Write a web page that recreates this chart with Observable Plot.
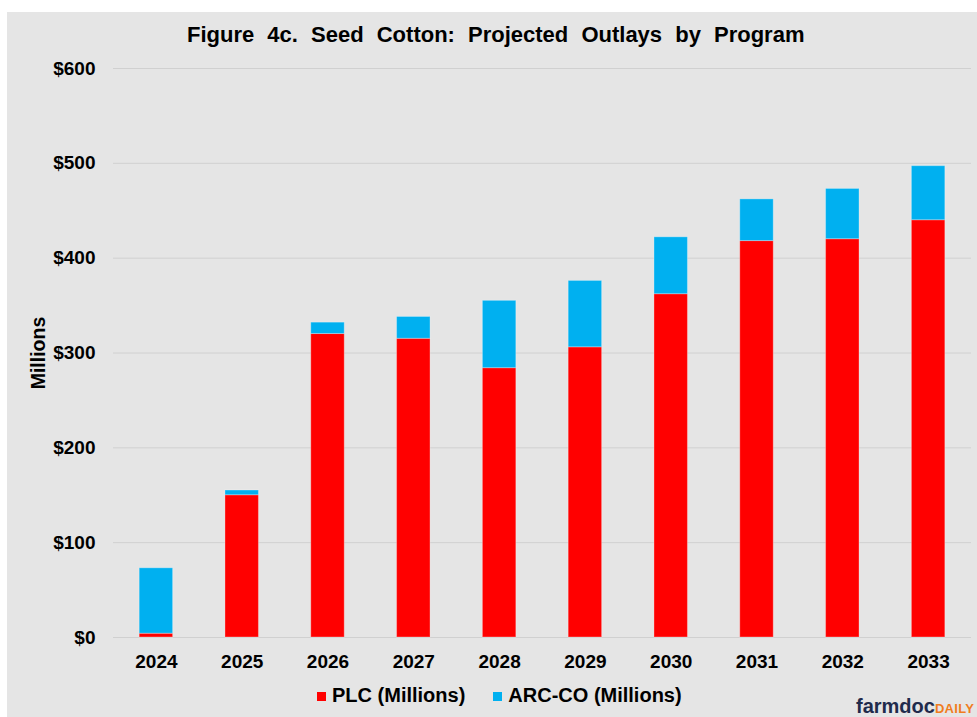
<!DOCTYPE html>
<html>
<head>
<meta charset="utf-8">
<script src="https://cdn.jsdelivr.net/npm/d3@7"></script>
<script src="https://cdn.jsdelivr.net/npm/@observablehq/plot@0.6"></script>
<style>
  html, body { margin: 0; padding: 0; background: #ffffff; width: 977px; height: 717px; overflow: hidden; }
  body { position: relative; font-family: "Liberation Sans", Arial, sans-serif; color: #000; }
  #panel { position: absolute; left: 7px; top: 12px; width: 970px; height: 705px; background: #e5e5e5; }
  #title { position: absolute; left: 187px; top: 22px; font-size: 22px; font-weight: bold; white-space: pre; word-spacing: 7px; line-height: 26px; }
  #chart { position: absolute; left: 0; top: 0; }
  #ylabel { position: absolute; left: 37.5px; top: 353px; font-size: 19.5px; font-weight: bold; transform: translate(-50%, -50%) rotate(-90deg); white-space: nowrap; line-height: 20px; }
  #legend { position: absolute; left: 317px; top: 685px; display: flex; gap: 28px; font-size: 20px; font-weight: bold; line-height: 20px; white-space: nowrap; }
  #legend .item { display: flex; align-items: center; }
  #legend .sw { width: 9px; height: 9px; margin-right: 6px; margin-top: 3px; }
  #logo { position: absolute; left: 856px; top: 696px; white-space: nowrap; line-height: 20px; font-weight: bold; }
  #logo .a { font-size: 20px; color: #1f2b4c; }
  #logo .b { font-size: 13px; color: #f07d1e; letter-spacing: 0.3px; }
</style>
</head>
<body>
<div id="panel"></div>
<div id="chart"></div>
<div id="title"></div>
<div id="ylabel"></div>
<div id="legend"></div>
<div id="logo"><span class="a">farmdoc</span><span class="b">DAILY</span></div>
<script>
const titleText = "Figure 4c. Seed Cotton: Projected Outlays by Program";
const yLabelText = "Millions";
const years = ["2024", "2025", "2026", "2027", "2028", "2029", "2030", "2031", "2032", "2033"];
const plc = [4, 150, 320, 315, 284, 306, 362, 418, 420, 440];
const arcco = [69, 5, 12, 23, 71, 70, 60, 44, 53, 57];
const seriesNames = ["PLC (Millions)", "ARC-CO (Millions)"];
const seriesColors = ["#ff0000", "#00b0f0"];
const yTicks = [0, 100, 200, 300, 400, 500, 600];

document.getElementById("title").textContent = titleText;
document.getElementById("ylabel").textContent = yLabelText;

const seriesValues = [plc, arcco];
const rows = years.flatMap((yr, i) =>
  seriesNames.map((name, k) => ({ year: yr, program: name, value: seriesValues[k][i] }))
);

const chart = Plot.plot({
  width: 977,
  height: 680,
  marginTop: 68,
  marginBottom: 43,
  marginLeft: 113,
  marginRight: 6,
  style: { background: "transparent", fontFamily: "'Liberation Sans', Arial, sans-serif", color: "#000", overflow: "visible" },
  x: { domain: years, paddingInner: 0.61, paddingOuter: 0.305, round: false, label: null },
  y: { domain: [0, 600], label: null },
  color: { domain: seriesNames, range: seriesColors },
  marks: [
    Plot.gridY(yTicks, { stroke: "#d0d0d0", strokeOpacity: 1, strokeWidth: 1 }),
    Plot.barY(rows, { x: "year", y: "value", fill: "program", stroke: "#ffffff", strokeOpacity: 0.3, strokeWidth: 1 }),
    Plot.axisY(yTicks, { tickSize: 0, tickPadding: 18, tickFormat: d => "$" + d, fontSize: 19, fontWeight: "bold", label: null }),
    Plot.axisX({ tickSize: 0, tickPadding: 17, fontSize: 19, fontWeight: "bold", label: null })
  ]
});
document.getElementById("chart").appendChild(chart);

const legend = document.getElementById("legend");
seriesNames.forEach((name, k) => {
  const item = document.createElement("div");
  item.className = "item";
  const sw = document.createElement("span");
  sw.className = "sw";
  sw.style.background = seriesColors[k];
  const tx = document.createElement("span");
  tx.textContent = name;
  item.appendChild(sw);
  item.appendChild(tx);
  legend.appendChild(item);
});
</script>
</body>
</html>
